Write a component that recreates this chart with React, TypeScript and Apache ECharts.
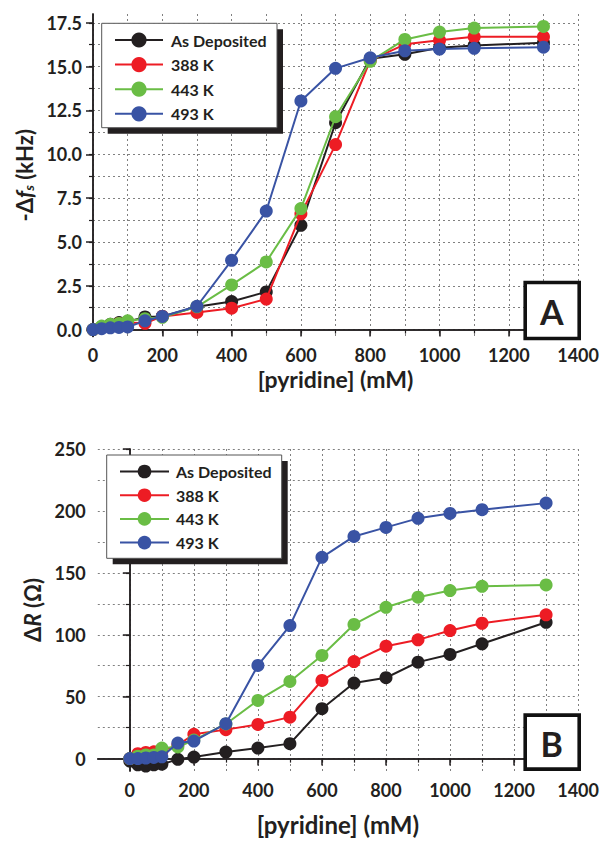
import React, { useEffect, useRef } from "react";
import * as echarts from "echarts";

const seriesNames = ["As Deposited", "388 K", "443 K", "493 K"];
const seriesColors = ["#231f20", "#ed1c24", "#6abd45", "#3953a4"];
const concentrations = [0, 25, 50, 75, 100, 150, 200, 300, 400, 500, 600, 700, 800, 900, 1000, 1100, 1300];

// Panel A: -Δf_s (kHz)
const freqAsDeposited = [0, 0.15, 0.3, 0.4, 0.45, 0.72, 0.75, 1.3, 1.6, 2.15, 5.95, 11.8, 15.45, 15.7, 16.07, 16.2, 16.36];
const freq388 = [0, 0.15, 0.25, 0.35, 0.4, 0.36, 0.75, 0.98, 1.22, 1.74, 6.6, 10.55, 15.35, 16.27, 16.5, 16.7, 16.7];
const freq443 = [0, 0.2, 0.3, 0.35, 0.5, 0.62, 0.7, 1.3, 2.55, 3.86, 6.9, 12.14, 15.3, 16.55, 16.97, 17.2, 17.29];
const freq493 = [0, 0.05, 0.1, 0.12, 0.15, 0.5, 0.75, 1.33, 3.95, 6.76, 13.04, 14.9, 15.5, 15.9, 16.0, 16.04, 16.11];

// Panel B: ΔR (Ω)
const resAsDeposited = [-2, -5, -6, -5, -4.5, -0.6, 1.3, 5.3, 8.5, 12.1, 40.3, 61, 65.3, 77.9, 84.1, 92.7, 110.1];
const res388 = [0, 4, 5, 5.5, 6, 11, 19.6, 23.4, 27.6, 33.5, 63.1, 78.4, 90.8, 95.9, 103.4, 109.3, 116.1];
const res443 = [0, 2, 3, 3, 8.5, 9.4, 15, 28, 47, 62.3, 83.3, 108.3, 122.2, 130.3, 135.7, 139.1, 140.2];
const res493 = [0, 0, 0.5, 1, 1.5, 12.6, 14.2, 28.2, 75.2, 107.4, 162.5, 179.4, 186.7, 194, 198, 201, 206.3];

const xMajorA = [0, 200, 400, 600, 800, 1000, 1200, 1400];
const xMinorA = [0, 100, 200, 300, 400, 500, 600, 700, 800, 900, 1000, 1100, 1200, 1300, 1400];
const yMajorA = [0, 2.5, 5, 7.5, 10, 12.5, 15, 17.5];
const yMinorA = [0, 1.25, 2.5, 3.75, 5, 6.25, 7.5, 8.75, 10, 11.25, 12.5, 13.75, 15, 16.25, 17.5];
const xMajorB = [0, 200, 400, 600, 800, 1000, 1200, 1400];
const xMinorB = [0, 100, 200, 300, 400, 500, 600, 700, 800, 900, 1000, 1100, 1200, 1300, 1400];
const yMajorB = [0, 50, 100, 150, 200, 250];
const yMinorB = [0, 25, 50, 75, 100, 125, 150, 175, 200, 225, 250];

const FONT = "Lato";
const INK = "#231f20";

export default function App() {
  const ref = useRef<HTMLDivElement>(null);

  useEffect(() => {
    if (!ref.current) return;
    const chart = echarts.init(ref.current, null, { renderer: "svg" });

    const labelStyle = { fontFamily: FONT, fontWeight: "bold", fontSize: 18, color: INK };
    const axisLine = { show: true, lineStyle: { color: INK, width: 1.5 } };
    const gridLine = { show: true, lineStyle: { color: "#808080", width: 1, type: [2, 3] } };

    const mkAxes = (
      grid: number,
      dim: "x" | "y",
      min: number,
      max: number,
      major: number[],
      minor: number[],
      fmt: (v: number) => string,
      margin: number,
      name: string,
      nameGap: number,
      nameSize: number,
      rich?: any
    ) => {
      const main = dim === "x" ? "bottom" : "left";
      const opp = dim === "x" ? "top" : "right";
      return [
        {
          type: "value",
          gridIndex: grid,
          min,
          max,
          position: main,
          axisLine,
          axisTick: { show: true, customValues: major, length: 7, lineStyle: { color: INK, width: 1.5 } },
          axisLabel: { show: true, customValues: major, formatter: fmt, margin, ...labelStyle },
          splitLine: { show: false },
          name,
          nameLocation: "middle",
          nameGap,
          nameRotate: dim === "y" ? 90 : 0,
          nameTextStyle: { fontFamily: FONT, fontWeight: "bold", fontSize: nameSize, color: INK, rich: rich || {} },
        },
        {
          type: "value",
          gridIndex: grid,
          min,
          max,
          position: main,
          axisLine: { show: false },
          axisTick: { show: true, customValues: minor, length: 4, lineStyle: { color: INK, width: 1.2 } },
          axisLabel: { show: false },
          splitLine: gridLine,
        },
        {
          type: "value",
          gridIndex: grid,
          min,
          max,
          position: opp,
          axisLine,
          axisTick: { show: false },
          axisLabel: { show: false },
          splitLine: { show: false },
        },
      ];
    };

    const xAxis = [
      ...mkAxes(0, "x", 0, 1400, xMajorA, xMinorA, (v) => String(v), 9, "[pyridine] (mM)", 31, 23),
      ...mkAxes(1, "x", -100, 1400, xMajorB, xMinorB, (v) => String(v), 10, "[pyridine] (mM)", 41, 24),
    ];
    const yAxis = [
      ...mkAxes(0, "y", -0.4, 18, yMajorA, yMinorA, (v) => v.toFixed(1), 11, "-Δ{i|f}{s|s} (kHz)", 54, 22, {
        i: { fontStyle: "italic", fontFamily: FONT, fontWeight: "bold", fontSize: 22, color: INK },
        s: { fontStyle: "italic", fontFamily: FONT, fontWeight: "bold", fontSize: 14, color: INK, padding: [9, 0, 0, 0] },
      }),
      ...mkAxes(1, "y", -10, 250, yMajorB, yMinorB, (v) => String(v), 12, "Δ{i|R} (Ω)", 44, 22, {
        i: { fontStyle: "italic", fontFamily: FONT, fontWeight: "bold", fontSize: 22, color: INK },
      }),
    ];

    const dataA = [freqAsDeposited, freq388, freq443, freq493];
    const dataB = [resAsDeposited, res388, res443, res493];

    const series: any[] = [];
    [dataA, dataB].forEach((set, g) => {
      set.forEach((vals, i) => {
        series.push({
          type: "line",
          name: seriesNames[i],
          xAxisIndex: g * 3,
          yAxisIndex: g * 3,
          data: concentrations.map((c, k) => [c, vals[k]]),
          symbol: "circle",
          symbolSize: 13,
          showSymbol: true,
          color: seriesColors[i],
          lineStyle: { color: seriesColors[i], width: 2 },
          itemStyle: { color: seriesColors[i] },
          clip: false,
          z: 3 + i,
        });
      });
    });

    const legendText = { fontFamily: FONT, fontWeight: "bold", fontSize: 16, color: INK };

    const boxA = { x: 101.7, y: 23.3, w: 175.3, h: 104.4 };
    const boxB = { x: 106.7, y: 455, w: 175, h: 103.3 };

    const graphic: any[] = [
      { type: "rect", z: 10, shape: { x: boxA.x + 6, y: boxA.y + 6, width: boxA.w, height: boxA.h }, style: { fill: INK } },
      { type: "rect", z: 11, shape: { x: boxA.x, y: boxA.y, width: boxA.w, height: boxA.h }, style: { fill: "#fff", stroke: "#555", lineWidth: 1 } },
      { type: "rect", z: 10, shape: { x: boxB.x + 6, y: boxB.y + 6, width: boxB.w, height: boxB.h }, style: { fill: INK } },
      { type: "rect", z: 11, shape: { x: boxB.x, y: boxB.y, width: boxB.w, height: boxB.h }, style: { fill: "#fff", stroke: "#555", lineWidth: 1 } },
      { type: "rect", z: 10, shape: { x: 525.2, y: 282.5, width: 54, height: 56 }, style: { fill: "#fff", stroke: "#111", lineWidth: 3.6 } },
      { type: "text", z: 11, x: 551.7, y: 311.5, style: { text: "A", fontFamily: FONT, fontWeight: "bold", fontSize: 34, fill: INK, align: "center", verticalAlign: "middle" } },
      { type: "rect", z: 10, shape: { x: 525.2, y: 715.1, width: 54, height: 54 }, style: { fill: "#fff", stroke: "#111", lineWidth: 3.6 } },
      { type: "text", z: 11, x: 551.7, y: 743.5, style: { text: "B", fontFamily: FONT, fontWeight: "bold", fontSize: 34, fill: INK, align: "center", verticalAlign: "middle" } },
    ];

    chart.setOption({
      animation: false,
      backgroundColor: "#fff",
      grid: [
        { left: 93, top: 14, width: 487, height: 322.6, containLabel: false },
        { left: 97.8, top: 449, width: 482.9, height: 322, containLabel: false },
      ],
      xAxis,
      yAxis,
      legend: [
        {
          orient: "vertical",
          left: 114,
          top: 32,
          padding: 0,
          itemWidth: 48,
          itemHeight: 19,
          itemGap: 8.6,
          z: 20,
          data: seriesNames,
          textStyle: { ...legendText, padding: [0, 0, 0, 3] },
          selectedMode: false,
        },
        {
          orient: "vertical",
          left: 119,
          top: 463.5,
          padding: 0,
          itemWidth: 49,
          itemHeight: 17,
          itemGap: 7.7,
          z: 20,
          data: seriesNames,
          textStyle: { ...legendText, padding: [0, 0, 0, 2] },
          selectedMode: false,
        },
      ],
      graphic,
      series,
    });

    return () => chart.dispose();
  }, []);

  return (
    <div
      ref={ref}
      style={{ position: "absolute", left: 0, top: 0, width: 602, height: 843, background: "#fff" }}
    />
  );
}
